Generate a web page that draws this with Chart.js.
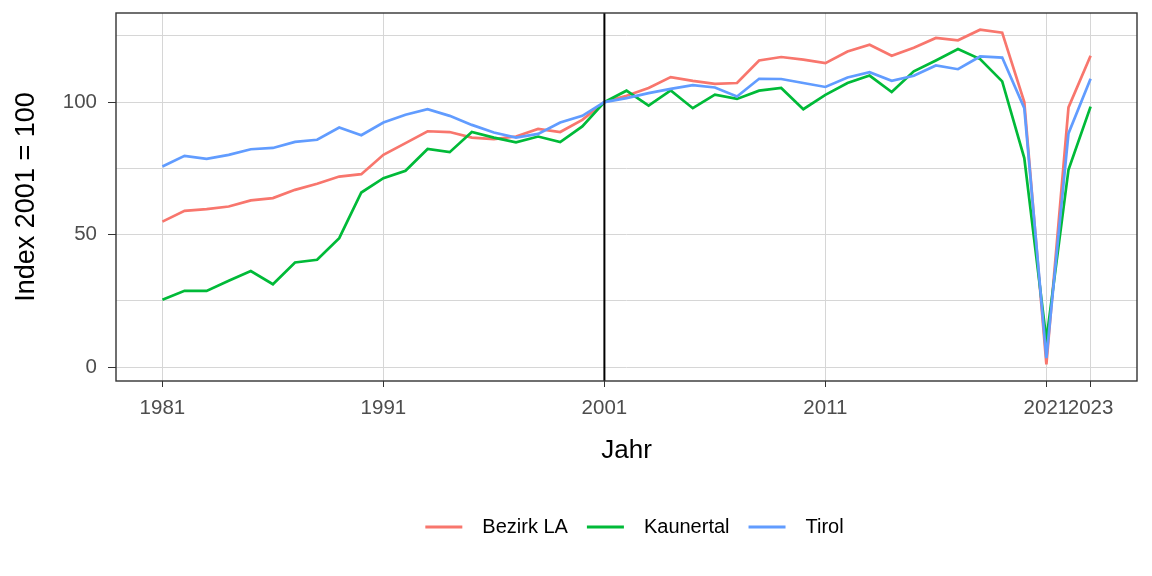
<!DOCTYPE html>
<html>
<head>
<meta charset="utf-8">
<script src="https://cdn.jsdelivr.net/npm/chart.js@4.4.1/dist/chart.umd.min.js"></script>
<style>
  html, body { margin: 0; padding: 0; background: #fff; }
</style>
</head>
<body>
<canvas id="myChart" width="1152" height="576"></canvas>
<script>
// data
const years = [1981, 1982, 1983, 1984, 1985, 1986, 1987, 1988, 1989, 1990,
  1991, 1992, 1993, 1994, 1995, 1996, 1997, 1998, 1999, 2000,
  2001, 2002, 2003, 2004, 2005, 2006, 2007, 2008, 2009, 2010,
  2011, 2012, 2013, 2014, 2015, 2016, 2017, 2018, 2019, 2020,
  2021, 2022, 2023];

const bezirkLA = [54.9, 59.0, 59.6, 60.6, 62.9, 63.8, 66.9, 69.2, 71.9, 72.8,
  80.1, 84.5, 89.0, 88.7, 86.6, 86.0, 87.0, 89.9, 88.7, 93.3,
  100, 102.4, 105.3, 109.4, 108.0, 106.9, 107.2, 115.7, 117.0, 116.0,
  114.7, 119.1, 121.6, 117.5, 120.5, 124.2, 123.3, 127.3, 126.2, 100.0,
  1.1, 98.0, 117.5];

const kaunertal = [25.4, 28.8, 28.8, 32.6, 36.3, 31.3, 39.5, 40.5, 48.7, 65.9,
  71.3, 74.1, 82.3, 81.1, 88.7, 86.6, 84.8, 87.0, 84.9, 90.8,
  100, 104.3, 98.7, 104.4, 97.7, 102.8, 101.2, 104.3, 105.3, 97.3,
  102.7, 107.2, 110.0, 103.8, 111.6, 115.7, 120.0, 116.2, 107.8, 78.9,
  10.3, 74.5, 98.3];

const tirol = [75.7, 79.7, 78.6, 80.1, 82.2, 82.7, 85.0, 85.8, 90.4, 87.5,
  92.3, 95.2, 97.3, 94.8, 91.4, 88.5, 86.6, 88.0, 92.3, 94.8,
  100, 101.5, 103.4, 105.0, 106.4, 105.5, 102.1, 108.8, 108.7, 107.2,
  105.7, 109.3, 111.3, 108.0, 109.9, 113.8, 112.4, 117.2, 116.8, 97.7,
  3.4, 88.2, 108.8];

const xTicks = [1981, 1991, 2001, 2011, 2021, 2023];
const yTicks = [0, 25, 50, 75, 100, 125];
const yTickLabels = ['0', '', '50', '', '100', ''];
const refYear = 2001;

function toPoints(vals) {
  return years.map((yr, i) => ({ x: yr, y: vals[i] }));
}

Chart.defaults.font.family = '"Liberation Sans", Arial, sans-serif';

// vertical line at 2001 + panel border
const framePlugin = {
  id: 'frame',
  afterDatasetsDraw(chart) {
    const { ctx, chartArea: a, scales: { x } } = chart;
    const xv = x.getPixelForValue(refYear);
    ctx.save();
    ctx.strokeStyle = '#000';
    ctx.lineWidth = 2;
    ctx.beginPath();
    ctx.moveTo(xv, a.top);
    ctx.lineTo(xv, a.bottom);
    ctx.stroke();
    ctx.strokeStyle = '#333';
    ctx.lineWidth = 1.4;
    ctx.strokeRect(a.left, a.top, a.right - a.left, a.bottom - a.top);
    ctx.restore();
  },
  afterLayout(chart) {
    // ggplot legend sits a bit right of the panel centre
    chart.legend.left += 8;
    chart.legend.right += 8;
  }
};

const data = {
  datasets: [
    { label: 'Tirol', data: toPoints(tirol), borderColor: '#619CFF', backgroundColor: '#619CFF' },
    { label: 'Kaunertal', data: toPoints(kaunertal), borderColor: '#00BA38', backgroundColor: '#00BA38' },
    { label: 'Bezirk LA', data: toPoints(bezirkLA), borderColor: '#F8766D', backgroundColor: '#F8766D' }
  ]
};

const config = {
  type: 'line',
  data: data,
  options: {
    responsive: false,
    animation: false,
    devicePixelRatio: 1,
    layout: { padding: { left: 0, right: 15, top: 13, bottom: 29 } },
    elements: {
      line: { borderWidth: 2.7, tension: 0 },
      point: { radius: 0 }
    },
    scales: {
      x: {
        type: 'linear',
        min: 1978.9,
        max: 2025.1,
        afterBuildTicks: s => { s.ticks = xTicks.map(v => ({ value: v })); },
        afterFit: s => { s.height = 117; },
        ticks: {
          autoSkip: false,
          maxRotation: 0,
          padding: 9,
          color: '#4d4d4d',
          font: { size: 20.5 },
          callback: v => String(v)
        },
        grid: { color: '#d6d6d6', lineWidth: 1, tickLength: 6, tickColor: '#333' },
        border: { display: false },
        title: { display: true, text: 'Jahr', color: '#000', font: { size: 26 }, padding: { top: 0, bottom: 32 } }
      },
      y: {
        type: 'linear',
        min: -5.2,
        max: 133.6,
        afterBuildTicks: s => { s.ticks = yTicks.map(v => ({ value: v })); },
        afterFit: s => { s.width = 116; s.paddingTop = 0; s.paddingBottom = 0; },
        ticks: {
          padding: 11,
          color: '#4d4d4d',
          font: { size: 20.5 },
          callback: v => yTickLabels[yTicks.indexOf(v)]
        },
        grid: {
          color: '#d6d6d6',
          lineWidth: 1,
          tickLength: 8,
          tickColor: c => (c.tick && c.tick.value % 50 === 0) ? '#333' : 'rgba(0,0,0,0)'
        },
        border: { display: false },
        title: { display: true, text: 'Index 2001 = 100', color: '#000', font: { size: 27 }, padding: { top: 10, bottom: 0 } }
      }
    },
    plugins: {
      tooltip: { enabled: false },
      legend: {
        position: 'bottom',
        fullSize: false,
        reverse: true,
        labels: {
          boxWidth: 37,
          boxHeight: 3,
          padding: 19,
          color: '#000',
          font: { size: 20 },
          generateLabels: chart => Chart.defaults.plugins.legend.labels.generateLabels(chart)
            .map(item => Object.assign(item, { text: '\u2002' + item.text, lineWidth: 0, fillStyle: item.strokeStyle }))
        }
      }
    }
  },
  plugins: [framePlugin]
};

const myChart = new Chart(document.getElementById('myChart'), config);
</script>
</body>
</html>
